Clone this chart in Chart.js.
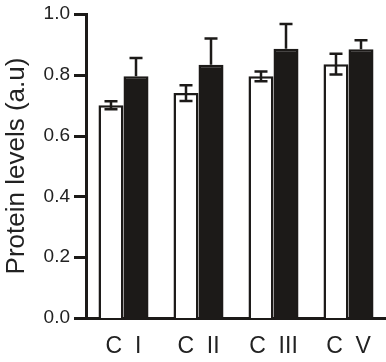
<!DOCTYPE html>
<html>
<head>
<meta charset="utf-8">
<script src="https://cdn.jsdelivr.net/npm/chart.js@4"></script>
<style>
  html, body { margin: 0; padding: 0; background: #fff; }
  #wrap { width: 386px; height: 362px; }
</style>
</head>
<body>
<div id="wrap"><canvas id="proteinChart" width="386" height="362"></canvas></div>
<script>
const categories = ['C  I', 'C  II', 'C  III', 'C  V'];
const whiteValues = [0.70, 0.74, 0.795, 0.835];
const whiteErrors = [0.013, 0.026, 0.016, 0.034];
const blackValues = [0.795, 0.833, 0.886, 0.884];
const blackErrors = [0.06, 0.086, 0.081, 0.03];
const yTicks = [0, 0.2, 0.4, 0.6, 0.8, 1.0];

const ink = '#1c1a18';

// error bars: white bars get both whiskers, black only the upper one
const errorBarPlugin = {
  id: 'errorBarPlugin',
  afterDatasetsDraw(chart) {
    const { ctx, scales: { y } } = chart;
    ctx.save();
    ctx.strokeStyle = ink;
    ctx.lineWidth = 2.5;
    chart.data.datasets.forEach((ds, di) => {
      const meta = chart.getDatasetMeta(di);
      meta.data.forEach((bar, i) => {
        const v = ds.data[i];
        const e = ds.errors[i];
        const x = bar.x;
        const cap = 6.5;
        const yTop = y.getPixelForValue(v + e);
        const yBot = ds.bothSides ? y.getPixelForValue(v - e) : y.getPixelForValue(v);
        ctx.beginPath();
        ctx.moveTo(x, yTop);
        ctx.lineTo(x, yBot);
        ctx.moveTo(x - cap, yTop);
        ctx.lineTo(x + cap, yTop);
        if (ds.bothSides) {
          ctx.moveTo(x - cap, yBot);
          ctx.lineTo(x + cap, yBot);
        }
        ctx.stroke();
      });
    });
    ctx.restore();
  }
};

// outward tick marks on the y axis (grid ticks didn't show up)
const yTickMarks = {
  id: 'yTickMarks',
  afterDraw(chart) {
    const { ctx, chartArea, scales: { y } } = chart;
    ctx.save();
    ctx.strokeStyle = ink;
    ctx.lineWidth = 3;
    y.ticks.forEach(t => {
      const py = Math.round(y.getPixelForValue(t.value)) + 0.5;
      ctx.beginPath();
      ctx.moveTo(chartArea.left - 12, py);
      ctx.lineTo(chartArea.left, py);
      ctx.stroke();
    });
    ctx.restore();
  }
};

new Chart(document.getElementById('proteinChart'), {
  type: 'bar',
  data: {
    labels: categories,
    datasets: [
      {
        data: whiteValues,
        errors: whiteErrors,
        bothSides: true,
        backgroundColor: '#ffffff',
        borderColor: ink,
        borderWidth: 2.5,
        borderSkipped: 'bottom'
      },
      {
        data: blackValues,
        errors: blackErrors,
        bothSides: false,
        backgroundColor: ink,
        borderColor: ink,
        borderWidth: 2.5,
        borderSkipped: 'bottom'
      }
    ]
  },
  options: {
    responsive: false,
    animation: false,
    events: [],
    categoryPercentage: 0.667,
    barPercentage: 1.0,
    layout: { padding: { top: 14, right: 0, left: 0, bottom: 0 } },
    scales: {
      x: {
        grid: { display: false, drawTicks: false },
        border: { display: true, color: ink, width: 3 },
        ticks: {
          color: '#222',
          padding: 15,
          font: { family: 'Liberation Sans, Arial', size: 23 }
        },
        afterFit(scale) { scale.height = 44; }
      },
      y: {
        min: 0,
        max: 1,
        afterBuildTicks(scale) { scale.ticks = yTicks.map(v => ({ value: v })); },
        grid: { display: false, drawTicks: false },
        border: { display: true, color: ink, width: 3 },
        ticks: {
          color: '#222',
          padding: 16,
          font: { family: 'Liberation Sans, Arial', size: 19 },
          callback: v => v.toFixed(1)
        },
        title: {
          display: true,
          text: 'Protein levels (a.u)',
          color: '#222',
          padding: { top: 1, bottom: 0 },
          font: { family: 'Liberation Sans, Arial', size: 26 }
        },
        afterFit(scale) {
          scale.width = 86;
          scale.paddingTop = 12;
          scale.paddingBottom = 12;
        }
      }
    },
    plugins: {
      legend: { display: false },
      tooltip: { enabled: false }
    }
  },
  plugins: [errorBarPlugin, yTickMarks]
});
</script>
</body>
</html>
